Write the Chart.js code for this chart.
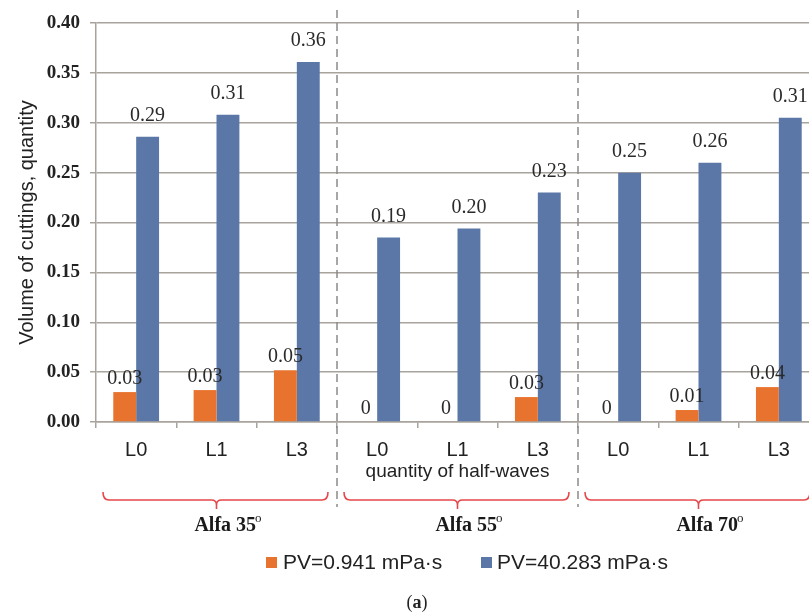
<!DOCTYPE html>
<html><head><meta charset="utf-8">
<script src="https://cdn.jsdelivr.net/npm/chart.js@4/dist/chart.umd.min.js"></script>
<style>
html,body{margin:0;padding:0;background:#fff;overflow:hidden;width:809px;height:612px}
#wrap{position:relative;width:830px;height:612px}
</style></head><body><div id="wrap"><canvas id="c" width="830" height="612"></canvas></div>
<script>
const categories = ['L0','L1','L3','L0','L1','L3','L0','L1','L3'];
const groupNames = ['Alfa 35','Alfa 55','Alfa 70'];
const seriesNames = ['PV=0.941 mPa·s','PV=40.283 mPa·s'];
const pvLow = [0.030,0.032,0.052,0,0,0.025,0,0.012,0.035];
const pvHigh = [0.286,0.308,0.361,0.185,0.194,0.230,0.250,0.260,0.305];
const pvLowLabels = ['0.03','0.03','0.05','0','0','0.03','0','0.01','0.04'];
const pvHighLabels = ['0.29','0.31','0.36','0.19','0.20','0.23','0.25','0.26','0.31'];
const yTickValues = [0,0.05,0.10,0.15,0.20,0.25,0.30,0.35,0.40];
const yTitle = 'Volume of cuttings, quantity';
const xTitle = 'quantity of half-waves';
const caption = 'a';

const ORANGE = '#E8732E', BLUE = '#5B77A8', RED = '#E5484A', GRID = '#A8A39C';
const SERIF = '"Liberation Serif", "Times New Roman", serif';
const SANS = '"Liberation Sans", Arial, sans-serif';

const extras = {
  id: 'extras',
  afterDatasetsDraw(chart) {
    const ctx = chart.ctx;
    const xs = chart.scales.x, ys = chart.scales.y;
    const ca = chart.chartArea;
    const half = (xs.getPixelForValue(1) - xs.getPixelForValue(0)) / 2;
    ctx.save();
    // data labels
    ctx.textAlign = 'center';
    ctx.textBaseline = 'middle';
    ctx.font = '20px ' + SERIF;
    ctx.fillStyle = '#2a2a2a';
    const m0 = chart.getDatasetMeta(0), m1 = chart.getDatasetMeta(1);
    m0.data.forEach((el, i) => { ctx.fillText(pvLowLabels[i], el.x, el.y - 13); });
    m1.data.forEach((el, i) => { ctx.fillText(pvHighLabels[i], el.x, el.y - 21); });
    // dashed separators
    ctx.strokeStyle = '#8a8a8a';
    ctx.lineWidth = 1.5;
    ctx.setLineDash([8, 5]);
    for (let g = 1; g < 3; g++) {
      const x = xs.getPixelForValue(g * 3) - half;
      ctx.beginPath(); ctx.moveTo(x, 10); ctx.lineTo(x, 507); ctx.stroke();
    }
    ctx.setLineDash([]);
    // brackets and group labels
    ctx.strokeStyle = RED;
    ctx.lineWidth = 1.6;
    for (let g = 0; g < 3; g++) {
      const l = xs.getPixelForValue(g * 3) - half + 7;
      const r = xs.getPixelForValue(g * 3 + 2) + half - 9;
      const c = xs.getPixelForValue(g * 3 + 1);
      const y = 500;
      ctx.beginPath();
      ctx.moveTo(l, 492);
      ctx.quadraticCurveTo(l, y, l + 6, y);
      ctx.lineTo(c - 5, y);
      ctx.quadraticCurveTo(c, y, c, y + 5);
      ctx.lineTo(c, y + 9);
      ctx.moveTo(c, y + 5);
      ctx.quadraticCurveTo(c, y, c + 5, y);
      ctx.lineTo(r - 6, y);
      ctx.quadraticCurveTo(r, y, r, 492);
      ctx.stroke();
      // label
      ctx.fillStyle = '#1a1a1a';
      ctx.font = 'bold 20px ' + SERIF;
      const w1 = ctx.measureText(groupNames[g]).width;
      ctx.font = '13px ' + SERIF;
      const w2 = ctx.measureText('o').width;
      const cx = c + 12;
      const sx = cx - (w1 + w2) / 2;
      ctx.textAlign = 'left';
      ctx.font = 'bold 20px ' + SERIF;
      ctx.fillText(groupNames[g], sx, 526);
      ctx.font = '13px ' + SERIF;
      ctx.fillText('o', sx + w1 - 1, 519);
      ctx.textAlign = 'center';
    }
    // y title
    ctx.fillStyle = '#222';
    ctx.font = '20px ' + SANS;
    ctx.save();
    ctx.translate(27, (ca.top + ca.bottom) / 2);
    ctx.rotate(-Math.PI / 2);
    ctx.fillText(yTitle, 0, 0);
    ctx.restore();
    // x title
    ctx.font = '19px ' + SANS;
    ctx.fillText(xTitle, (ca.left + ca.right) / 2, 472);
    // legend
    ctx.font = '21px ' + SANS;
    ctx.textAlign = 'left';
    ctx.fillStyle = ORANGE; ctx.fillRect(266, 557, 11, 11);
    ctx.fillStyle = '#222'; ctx.fillText(seriesNames[0], 283, 563);
    ctx.fillStyle = BLUE; ctx.fillRect(481, 557, 11, 11);
    ctx.fillStyle = '#222'; ctx.fillText(seriesNames[1], 497, 563);
    // caption
    ctx.font = '18px ' + SERIF;
    const wp = ctx.measureText('(').width;
    ctx.font = 'bold 18px ' + SERIF;
    const wa = ctx.measureText(caption).width;
    let sx = 417 - (2 * wp + wa) / 2;
    ctx.font = '18px ' + SERIF; ctx.fillText('(', sx, 603);
    ctx.font = 'bold 18px ' + SERIF; ctx.fillText(caption, sx + wp, 603);
    ctx.font = '18px ' + SERIF; ctx.fillText(')', sx + wp + wa, 603);
    ctx.restore();
  }
};

new Chart(document.getElementById('c'), {
  type: 'bar',
  data: {
    labels: categories,
    datasets: [
      { label: seriesNames[0], data: pvLow, backgroundColor: ORANGE, categoryPercentage: 0.57, barPercentage: 1.0 },
      { label: seriesNames[1], data: pvHigh, backgroundColor: BLUE, categoryPercentage: 0.57, barPercentage: 1.0 }
    ]
  },
  options: {
    responsive: false,
    animation: false,
    devicePixelRatio: 1,
    layout: { padding: { top: 23, right: 11, left: 0, bottom: 0 } },
    plugins: { legend: { display: false }, title: { display: false }, tooltip: { enabled: false } },
    scales: {
      x: {
        offset: true,
        grid: { offset: true, drawOnChartArea: false, drawTicks: true, tickLength: 6, color: GRID, lineWidth: 1.5 },
        border: { display: true, color: GRID, width: 1.5 },
        ticks: { font: { family: SANS, size: 20 }, color: '#222', padding: 10, maxRotation: 0 },
        afterFit(scale) { scale.height = 190; }
      },
      y: {
        min: 0, max: 0.4,
        afterBuildTicks(scale) { scale.ticks = yTickValues.map(v => ({ value: v })); },
        grid: { color: GRID, lineWidth: 1.5, tickLength: 6, drawTicks: true },
        border: { display: true, color: GRID, width: 1.5 },
        ticks: { font: { family: SERIF, size: 19, weight: 'bold' }, color: '#222', padding: 10, callback: v => Number(v).toFixed(2) },
        afterFit(scale) { scale.width = 96; }
      }
    }
  },
  plugins: [extras]
});
</script></body></html>
